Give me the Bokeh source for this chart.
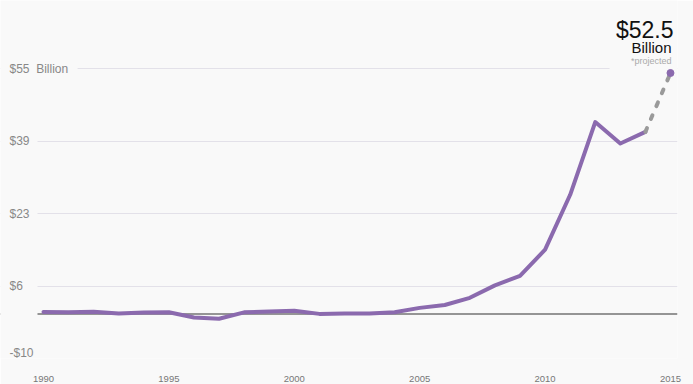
from bokeh.plotting import figure
from bokeh.models import Range1d, FixedTicker, Label, Span, BoxAnnotation, ColumnDataSource
from bokeh.embed import file_html
from bokeh.resources import INLINE

# ---- data ----
years = list(range(1990, 2015))
values = [0.45, 0.35, 0.5, 0.1, 0.3, 0.35, -0.8, -1.1, 0.35, 0.55,
          0.7, 0.0, 0.1, 0.1, 0.35, 1.35, 2.0, 3.6, 6.4, 8.5,
          14.4, 26.7, 43.0, 38.2, 40.8]
proj_years = [2014, 2015]
proj_values = [40.8, 54.0]
y_ticks = [-10, 6.25, 22.5, 38.75, 55]
y_tick_labels = ["-$10", "$6", "$23", "$39", "$55\u00a0 Billion"]
x_ticks = [1990, 1995, 2000, 2005, 2010, 2015]
proj_label = "$52.5"
proj_unit = "Billion"
proj_note = "*projected"

BG = "#f9f9f9"
PURPLE = "#8b6aae"
FONT = "Liberation Sans"

X0, X1 = 1988.285, 2015.28
GRID_START = 1989.76

p = figure(width=693, height=384, output_backend="svg", toolbar_location=None,
           x_range=Range1d(X0, X1), y_range=Range1d(-10, 70.25),
           min_border_left=0, min_border_right=16, min_border_top=0, min_border_bottom=25)
p.background_fill_color = BG
p.border_fill_color = BG
p.outline_line_color = None

p.yaxis.visible = False
p.xgrid.visible = False
p.ygrid.ticker = FixedTicker(ticks=[t for t in y_ticks if t != y_ticks[0]])
p.ygrid.grid_line_color = "#e3e1e9"
p.ygrid.grid_line_width = 1.2

ax = p.xaxis[0]
ax.ticker = FixedTicker(ticks=x_ticks)
ax.axis_line_color = None
ax.major_tick_line_color = None
ax.minor_tick_line_color = None
ax.major_label_text_font = FONT
ax.major_label_text_font_size = "9.5px"
ax.major_label_text_color = "#777777"
ax.major_label_standoff = 11

# baseline (underlay so the masks can trim it on the left)
p.add_layout(Span(location=0, dimension="width", line_color="#959595", line_width=2, level="underlay"))

# masks over grid where labels sit
p.add_layout(BoxAnnotation(left=X0, right=GRID_START, bottom=p.y_range.start, top=p.y_range.end,
                           fill_color=BG, fill_alpha=1, line_color=None, level="underlay"))
p.add_layout(BoxAnnotation(left=GRID_START, right=1991.36, bottom=54.4, top=55.6,
                           fill_color=BG, fill_alpha=1, line_color=None, level="underlay"))
p.add_layout(BoxAnnotation(left=2012.57, right=X1, bottom=54.8, top=p.y_range.end,
                           fill_color=BG, fill_alpha=1, line_color=None, level="underlay"))

# lines
src = ColumnDataSource(dict(x=years, y=values))
p.line("x", "y", source=src, line_color=PURPLE, line_width=4, line_join="round", line_cap="round")
p.line(proj_years, proj_values, line_color="#9a9a9a", line_width=4, line_dash="4 10", line_cap="round")
p.scatter([proj_years[-1]], [proj_values[-1]], size=7, color=PURPLE)

# y labels
for t, lab in zip(y_ticks, y_tick_labels):
    p.add_layout(Label(x=X0, y=t, x_offset=9, y_offset=(6 if t == y_ticks[0] else 0),
                       text=lab, text_baseline="middle", text_align="left",
                       text_font=FONT, text_font_size="12px", text_color="#888888"))

# projection annotation
p.add_layout(Label(x=proj_years[-1], y=proj_values[-1], x_offset=3, y_offset=43, text=proj_label,
                   text_align="right", text_baseline="middle", text_font=FONT,
                   text_font_size="23px", text_color="#111111"))
p.add_layout(Label(x=proj_years[-1], y=proj_values[-1], x_offset=1, y_offset=25, text=proj_unit,
                   text_align="right", text_baseline="middle", text_font=FONT,
                   text_font_size="15px", text_color="#111111"))
p.add_layout(Label(x=proj_years[-1], y=proj_values[-1], x_offset=1, y_offset=12, text=proj_note,
                   text_align="right", text_baseline="middle", text_font=FONT,
                   text_font_size="9px", text_color="#aaaaaa"))

html = file_html(p, INLINE)
html = html.replace("<body>", '<body style="background:%s">' % BG, 1)
open("out.html", "w").write(html)
